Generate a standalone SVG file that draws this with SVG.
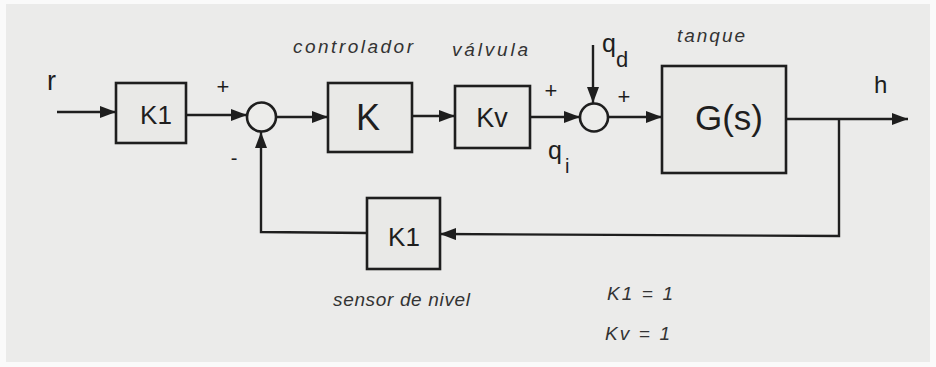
<svg xmlns="http://www.w3.org/2000/svg" width="936" height="367" viewBox="0 0 936 367">
<defs>
<marker id="arr" viewBox="0 0 16 12" refX="16" refY="6" markerWidth="16" markerHeight="12" markerUnits="userSpaceOnUse" orient="auto">
<path d="M0,0 L16,6 L0,12 Z" fill="#1e1e1e"/>
</marker>
</defs>
<style>
.box{fill:#e9e9e7;stroke:#1e1e1e;stroke-width:2.6}
.sum{fill:#ececea;stroke:#1e1e1e;stroke-width:2.6}
.ln{fill:none;stroke:#1e1e1e;stroke-width:2.4}
.t{font-family:"Liberation Sans",Arial,sans-serif;fill:#1e1e1e}
.it{font-family:"Liberation Sans",Arial,sans-serif;font-style:italic;fill:#333;font-size:19px}
</style>
<rect x="0" y="0" width="936" height="367" fill="#fafafa"/>
<rect x="6" y="4" width="924" height="358" fill="#ebebea"/>

<g id="connectors">
<line class="ln" x1="57" y1="112" x2="116" y2="112" marker-end="url(#arr)"/>
<line class="ln" x1="186" y1="115" x2="247" y2="115" marker-end="url(#arr)"/>
<line class="ln" x1="276" y1="117" x2="328" y2="117" marker-end="url(#arr)"/>
<line class="ln" x1="412" y1="116" x2="455" y2="116" marker-end="url(#arr)"/>
<line class="ln" x1="530" y1="117" x2="580" y2="117" marker-end="url(#arr)"/>
<line class="ln" x1="593" y1="45" x2="593" y2="103" marker-end="url(#arr)"/>
<line class="ln" x1="608" y1="117" x2="662" y2="117" marker-end="url(#arr)"/>
<line class="ln" x1="786" y1="119" x2="908" y2="119" marker-end="url(#arr)"/>
<polyline class="ln" points="839,119 839,236 440,234" marker-end="url(#arr)"/>
<polyline class="ln" points="367,233 261,232 261,132" marker-end="url(#arr)"/>
</g>

<g id="K1_in">
<rect class="box" x="116" y="83" width="70" height="60"/>
<text class="t" x="156" y="124" font-size="26" text-anchor="middle">K1</text>
</g>

<g id="sum1">
<circle class="sum" cx="261.5" cy="117" r="14.5"/>
<text class="t" x="223" y="94" font-size="22" text-anchor="middle">+</text>
<text class="t" x="234" y="165" font-size="20" text-anchor="middle">-</text>
</g>

<g id="K">
<rect class="box" x="328" y="83" width="84" height="69"/>
<text class="t" x="368" y="130" font-size="36" text-anchor="middle">K</text>
<text class="it" x="293" y="53" textLength="120" lengthAdjust="spacing">controlador</text>
</g>

<g id="Kv">
<rect class="box" x="455" y="86" width="75" height="62"/>
<text class="t" x="492" y="127" font-size="27" text-anchor="middle">Kv</text>
<text class="it" x="452" y="56" textLength="76" lengthAdjust="spacing">válvula</text>
</g>

<g id="sum2">
<circle class="sum" cx="594" cy="117.5" r="14"/>
<text class="t" x="551" y="98" font-size="22" text-anchor="middle">+</text>
<text class="t" x="624" y="104" font-size="22" text-anchor="middle">+</text>
<text class="t" x="602" y="52" font-size="25">q</text>
<text class="t" x="616" y="67" font-size="22">d</text>
<text class="t" x="548" y="159" font-size="25">q</text>
<text class="t" x="565" y="173" font-size="20">i</text>
</g>

<g id="G">
<rect class="box" x="662" y="66" width="124" height="107"/>
<text class="t" x="729" y="130" font-size="35" text-anchor="middle">G(s)</text>
<text class="it" x="677" y="42" textLength="68" lengthAdjust="spacing">tanque</text>
</g>

<g id="K1_fb">
<rect class="box" x="367" y="198" width="73" height="71"/>
<text class="t" x="404" y="246" font-size="26" text-anchor="middle">K1</text>
<text class="it" x="333" y="306" textLength="137" lengthAdjust="spacing">sensor de nivel</text>
</g>

<g id="labels">
<text class="t" x="47" y="90" font-size="27">r</text>
<text class="t" x="874" y="93" font-size="24">h</text>
<text class="it" x="607" y="300" font-size="20" textLength="66" lengthAdjust="spacing">K1 = 1</text>
<text class="it" x="605" y="340" font-size="20" textLength="65" lengthAdjust="spacing">Kv = 1</text>
</g>
</svg>
